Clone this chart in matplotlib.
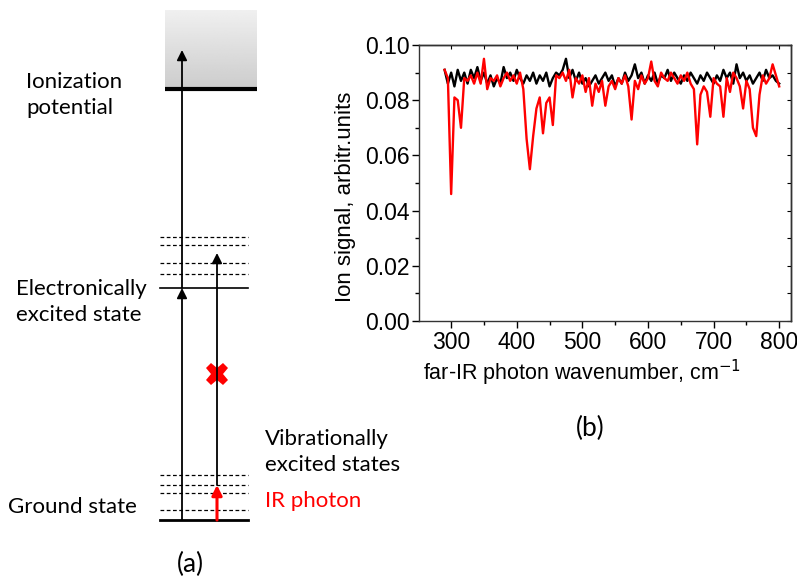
import numpy as np
import matplotlib.pyplot as plt
import matplotlib as mpl

mpl.rcParams.update({
    "font.family": ["Liberation Sans", "DejaVu Sans"],
    "axes.linewidth": 1.0,
})

# ---------------- data (b) ----------------
wavenumber = [290, 295, 300, 305, 310, 315, 320, 325, 330, 335, 340, 345, 350,
              355, 360, 365, 370, 375, 380, 385, 390, 395, 400, 405, 410, 415,
              420, 425, 430, 435, 440, 445, 450, 455, 460, 465, 470, 475, 480,
              485, 490, 495, 500, 505, 510, 515, 520, 525, 530, 535, 540, 545,
              550, 555, 560, 565, 570, 575, 580, 585, 590, 595, 600, 605, 610,
              615, 620, 625, 630, 635, 640, 645, 650, 655, 660, 665, 670, 675,
              680, 685, 690, 695, 700, 705, 710, 715, 720, 725, 730, 735, 740,
              745, 750, 755, 760, 765, 770, 775, 780, 785, 790, 795, 800]

signal_black = [0.091, 0.086, 0.090, 0.085, 0.091, 0.087, 0.090, 0.086, 0.091, 0.088,
                0.092, 0.087, 0.090, 0.086, 0.089, 0.085, 0.088, 0.086, 0.092, 0.088,
                0.090, 0.087, 0.091, 0.088, 0.086, 0.089, 0.087, 0.090, 0.086, 0.089,
                0.087, 0.090, 0.085, 0.088, 0.090, 0.089, 0.091, 0.095, 0.088, 0.091,
                0.087, 0.090, 0.086, 0.088, 0.085, 0.087, 0.089, 0.086, 0.088, 0.090,
                0.087, 0.089, 0.085, 0.088, 0.086, 0.090, 0.087, 0.089, 0.093, 0.088,
                0.090, 0.086, 0.089, 0.087, 0.090, 0.086, 0.089, 0.088, 0.091, 0.087,
                0.090, 0.088, 0.086, 0.089, 0.087, 0.090, 0.088, 0.086, 0.089, 0.087,
                0.090, 0.088, 0.086, 0.089, 0.087, 0.091, 0.088, 0.090, 0.086, 0.093,
                0.088, 0.090, 0.087, 0.089, 0.086, 0.088, 0.090, 0.087, 0.091, 0.088,
                0.089, 0.087, 0.086]

signal_red = [0.091, 0.088, 0.046, 0.081, 0.080, 0.070, 0.088, 0.087, 0.089, 0.086,
              0.090, 0.086, 0.095, 0.084, 0.088, 0.087, 0.089, 0.085, 0.088, 0.090,
              0.087, 0.089, 0.086, 0.090, 0.084, 0.066, 0.055, 0.067, 0.077, 0.081,
              0.068, 0.079, 0.081, 0.071, 0.089, 0.088, 0.090, 0.087, 0.091, 0.081,
              0.088, 0.086, 0.089, 0.083, 0.088, 0.078, 0.086, 0.083, 0.087, 0.078,
              0.085, 0.087, 0.084, 0.088, 0.086, 0.089, 0.085, 0.073, 0.087, 0.084,
              0.089, 0.086, 0.088, 0.094, 0.087, 0.085, 0.090, 0.088, 0.087, 0.090,
              0.088, 0.086, 0.089, 0.087, 0.090, 0.086, 0.084, 0.064, 0.082, 0.085,
              0.083, 0.074, 0.088, 0.086, 0.085, 0.074, 0.088, 0.083, 0.090, 0.088,
              0.085, 0.077, 0.087, 0.084, 0.070, 0.067, 0.082, 0.089, 0.086, 0.088,
              0.093, 0.089, 0.085]

x_ticks = [300, 400, 500, 600, 700, 800]
x_minor = [350, 450, 550, 650, 750]
y_ticks = [0.00, 0.02, 0.04, 0.06, 0.08, 0.10]
y_minor = [0.01, 0.03, 0.05, 0.07, 0.09]

# ---------------- scheme (a), pixel coordinates ----------------
ground_y = 520
ground_vib = [475, 485, 493, 510]
excited_y = 288
excited_vib = [237, 245, 263, 274]
ion_y = 89

fig = plt.figure(figsize=(7.97, 5.79), dpi=100)

# scheme axes spanning the whole figure, in pixels
sch = fig.add_axes([0, 0, 1, 1])
sch.set_xlim(0, 797)
sch.set_ylim(579, 0)
sch.axis("off")

txt_font = ["Lato", "DejaVu Sans"]
txt_size = 16

# gray continuum above ionization potential
grad = np.linspace(0.94, 0.80, 100).reshape(-1, 1)
sch.imshow(grad, extent=(165, 257, ion_y, 10), cmap="gray", vmin=0, vmax=1,
           aspect="auto", zorder=0)
sch.plot([165, 257], [ion_y, ion_y], color="black", lw=3, solid_capstyle="butt")

# levels
sch.plot([160, 248], [excited_y, excited_y], color="black", lw=1.2)
sch.plot([160, 248], [ground_y, ground_y], color="black", lw=2)
for yv in excited_vib + ground_vib:
    sch.plot([160, 248], [yv, yv], color="black", lw=0.9, ls=(0, (3, 2)))

arrow = dict(arrowstyle="-|>,head_length=0.6,head_width=0.3", color="black",
             lw=1.3, shrinkA=0, shrinkB=0, mutation_scale=10)
sch.annotate("", xy=(182, excited_y), xytext=(182, ground_y), arrowprops=arrow)
sch.annotate("", xy=(182, 50), xytext=(182, excited_y), arrowprops=arrow)
sch.annotate("", xy=(217, 253), xytext=(217, 485), arrowprops=arrow)
red_arrow = dict(arrow, color="red", lw=2.2)
sch.annotate("", xy=(217, 485), xytext=(217, ground_y), arrowprops=red_arrow)
sch.plot(217, 374, marker="X", color="red", markersize=16, markeredgewidth=0)

sch.text(26, 95, "Ionization\npotential", fontsize=txt_size, family=txt_font,
         va="center", ha="left", linespacing=1.35)
sch.text(16, 302, "Electronically\nexcited state", fontsize=txt_size,
         family=txt_font, va="center", ha="left", linespacing=1.35)
sch.text(8, 507, "Ground state", fontsize=txt_size, family=txt_font,
         va="center", ha="left")
sch.text(265, 452, "Vibrationally\nexcited states", fontsize=txt_size,
         family=txt_font, va="center", ha="left", linespacing=1.35)
sch.text(265, 501, "IR photon", fontsize=txt_size, family=txt_font,
         va="center", ha="left", color="red")
sch.text(190, 564, "(a)", fontsize=19, family=txt_font, va="center", ha="center")
sch.text(590, 428, "(b)", fontsize=19, family=txt_font, va="center", ha="center")

# ---------------- spectrum axes ----------------
ax = fig.add_axes([419 / 797, 1 - 321 / 579, 372 / 797, 276 / 579])
ax.plot(wavenumber, signal_black, color="black", lw=1.7)
ax.plot(wavenumber, signal_red, color="red", lw=1.7)

ax.set_xlim(251, 818)
ax.set_ylim(0, 0.10)
ax.set_xticks(x_ticks)
ax.set_yticks(y_ticks)
ax.set_xticks(x_minor, minor=True)
ax.set_yticks(y_minor, minor=True)
ax.yaxis.set_major_formatter(mpl.ticker.FormatStrFormatter("%.2f"))
ax.tick_params(which="major", direction="out", length=5, width=1,
               labelsize=16.5, pad=2)
ax.tick_params(which="minor", direction="out", length=3, width=1)
ax.tick_params(which="both", top=False, right=False)
for s in ax.spines.values():
    s.set_color("#333333")

sec_x = ax.secondary_xaxis("top")
sec_x.set_xticks(x_ticks + x_minor)
sec_x.tick_params(direction="in", length=3, labeltop=False)
sec_y = ax.secondary_yaxis("right")
sec_y.set_yticks(y_ticks + y_minor)
sec_y.tick_params(direction="in", length=3, labelright=False)

ax.set_xlabel("far-IR photon wavenumber, cm$^{-1}$", fontsize=15.5)
ax.set_ylabel("Ion signal, arbitr.units", fontsize=16)
ax.xaxis.set_label_coords(0.438, -0.135)
ax.yaxis.set_label_coords(-0.17, 0.45)

fig.savefig("out.png", dpi=100)
